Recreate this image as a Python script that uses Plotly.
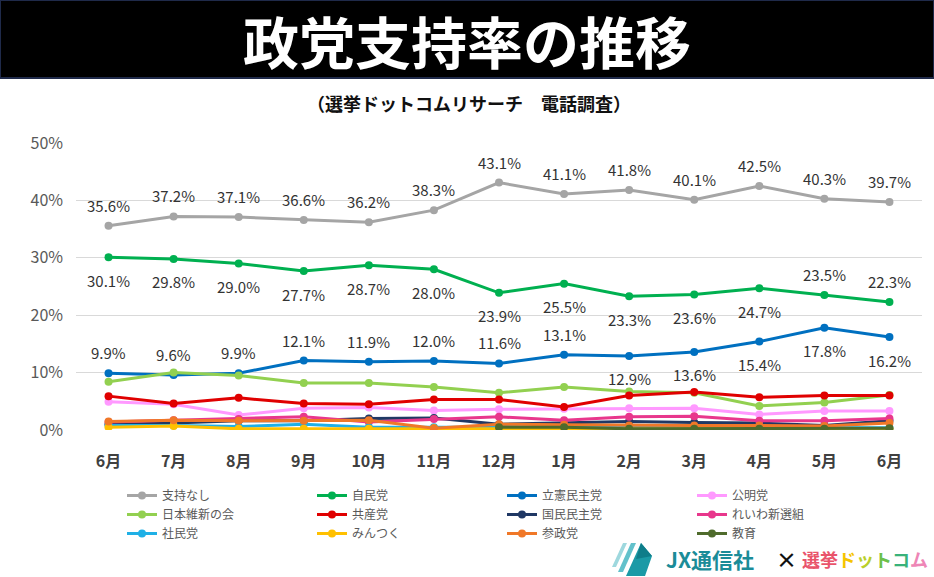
import plotly.graph_objects as go

# ---------------- data ----------------
months = ["6月", "7月", "8月", "9月", "10月", "11月", "12月", "1月", "2月", "3月", "4月", "5月", "6月"]

parties = ["支持なし", "自民党", "立憲民主党", "公明党",
           "日本維新の会", "共産党", "国民民主党", "れいわ新選組",
           "社民党", "みんつく", "参政党", "教育"]

nashi   = [35.6, 37.2, 37.1, 36.6, 36.2, 38.3, 43.1, 41.1, 41.8, 40.1, 42.5, 40.3, 39.7]
jimin   = [30.1, 29.8, 29.0, 27.7, 28.7, 28.0, 23.9, 25.5, 23.3, 23.6, 24.7, 23.5, 22.3]
rikken  = [9.9, 9.6, 9.9, 12.1, 11.9, 12.0, 11.6, 13.1, 12.9, 13.6, 15.4, 17.8, 16.2]
komei   = [4.9, 4.5, 2.6, 3.8, 3.9, 3.4, 3.6, 3.7, 3.8, 3.8, 2.7, 3.3, 3.3]
ishin   = [8.4, 10.0, 9.5, 8.2, 8.2, 7.5, 6.5, 7.5, 6.7, 6.5, 4.2, 4.8, 6.1]
kyosan  = [5.9, 4.6, 5.6, 4.6, 4.5, 5.3, 5.3, 4.0, 6.0, 6.6, 5.7, 6.0, 6.0]
kokumin = [1.0, 1.2, 1.6, 1.6, 2.0, 2.1, 1.0, 1.2, 1.5, 1.3, 1.2, 0.8, 1.6]
reiwa   = [1.4, 1.7, 1.9, 2.3, 1.4, 1.9, 2.3, 1.7, 2.3, 2.4, 1.6, 1.6, 2.0]
shamin  = [0.8, 0.8, 0.6, 1.0, 0.5, 0.5, 0.4, 0.4, 0.4, 0.4, 0.4, 0.4, 0.4]
mintsuku = [0.5, 0.7, 0.2, 0.2, 0.2, 0.3, 0.3, 0.2, 0.2, 0.2, 0.2, 0.2, 0.2]
sansei  = [1.5, 1.7, 1.6, 1.6, 1.7, 0.3, 1.0, 0.9, 0.8, 0.8, 0.8, 0.7, 1.2]
kyoiku  = [None, None, None, None, None, None, 0.5, 0.5, 0.2, 0.2, 0.2, 0.2, 0.3]

series = [nashi, jimin, rikken, komei, ishin, kyosan, kokumin, reiwa,
          shamin, mintsuku, sansei, kyoiku]

y_ticks = [0, 10, 20, 30, 40, 50]

# ---------------- style ----------------
colors = ["#A5A5A5", "#00B050", "#0070C0", "#FF99FF",
          "#92D050", "#E00000", "#203864", "#E8378C",
          "#1FB0E6", "#FFC000", "#F07828", "#4F6B2C"]

# label placement for the three labelled series (1 = above, -1 = below)
label_side = {
    0: [1] * 13,
    1: [-1] * 11 + [1, 1],
    2: [1] * 8 + [-1] * 5,
}

W, H = 934, 577
L, R, T, B = 76, 12, 143, 147
PW, PH = W - L - R, H - T - B


def px(xp):
    return (xp - L) / PW


def py(yp):
    return (H - B - yp) / PH


FONT = "Noto Sans CJK JP"
x_idx = list(range(len(months)))

fig = go.Figure()
for i, (name, vals) in enumerate(zip(parties, series)):
    fig.add_trace(go.Scatter(
        x=x_idx, y=vals, name=name, mode="lines+markers",
        line=dict(color=colors[i], width=3),
        marker=dict(color=colors[i], size=8),
        hoverinfo="skip",
    ))

annotations = []
for si, sides in label_side.items():
    for xi, (v, s) in enumerate(zip(series[si], sides)):
        annotations.append(dict(
            x=xi, y=v, xref="x", yref="y", text=f"{v:.1f}%",
            showarrow=False, yshift=20.5 if s > 0 else -23,
            font=dict(family=FONT, size=15, color="#333333"),
        ))

# title bar
shapes = [dict(type="rect", xref="paper", yref="paper",
               x0=px(0), x1=px(W), y0=py(0), y1=py(78),
               fillcolor="#000000", line=dict(color="#1F2A4A", width=2), layer="below")]
annotations.append(dict(
    xref="paper", yref="paper", x=px(467), y=py(39), text="<b>政党支持率の推移</b>",
    showarrow=False, font=dict(family=FONT, size=56, color="#FFFFFF"),
    xanchor="center", yanchor="middle"))
annotations.append(dict(
    xref="paper", yref="paper", x=px(469), y=py(103), text="<b>（選挙ドットコムリサーチ　電話調査）</b>",
    showarrow=False, font=dict(family=FONT, size=18, color="#111111"),
    xanchor="center", yanchor="middle"))

# logo icon
def poly(pts, color):
    path = "M " + " L ".join(f"{px(a)},{py(b)}" for a, b in pts) + " Z"
    return dict(type="path", xref="paper", yref="paper", path=path,
                fillcolor=color, line=dict(width=0))

shapes += [
    poly([(612, 567), (616, 567), (627, 543), (623, 543)], "#9ED8DE"),
    poly([(618, 572), (623, 572), (636, 543), (631, 543)], "#62C1CB"),
    poly([(626, 576), (641, 543), (652, 556), (645, 576)], "#1A9AA6"),
    poly([(641, 543), (652, 556), (636, 559)], "#0E7D8A"),
]
annotations.append(dict(
    xref="paper", yref="paper", x=px(664), y=py(559), text="<b>JX通信社</b>",
    showarrow=False, font=dict(family=FONT, size=21, color="#1B8C98"),
    xanchor="left", yanchor="middle"))
annotations.append(dict(
    xref="paper", yref="paper", x=px(786), y=py(559), text="<b>×</b>",
    showarrow=False, font=dict(family=FONT, size=21, color="#111111"),
    xanchor="center", yanchor="middle"))
annotations.append(dict(
    xref="paper", yref="paper", x=px(800), y=py(559),
    text=("<b><span style='color:#E9546B'>選挙</span>"
          "<span style='color:#F5C400'>ド</span>"
          "<span style='color:#B9CF2A'>ッ</span>"
          "<span style='color:#6CC04A'>ト</span>"
          "<span style='color:#39B27A'>コ</span>"
          "<span style='color:#EE86B6'>ム</span></b>"),
    showarrow=False, font=dict(family=FONT, size=18),
    xanchor="left", yanchor="middle"))

fig.update_layout(
    width=W, height=H,
    margin=dict(l=L, r=R, t=T, b=B, autoexpand=False),
    paper_bgcolor="white", plot_bgcolor="white",
    font=dict(family=FONT, color="#404040"),
    showlegend=True,
    legend=dict(
        orientation="h", x=px(122), y=py(481), xanchor="left", yanchor="top",
        entrywidth=145, entrywidthmode="pixels", itemwidth=30,
        font=dict(family=FONT, size=12, color="#595959"),
        bgcolor="rgba(0,0,0,0)", tracegroupgap=0,
    ),
    xaxis=dict(
        range=[-0.5, len(months) - 0.5],
        tickmode="array", tickvals=x_idx, ticktext=[f"<b>{m}</b>" for m in months],
        showgrid=False, zeroline=False, showline=False, ticks="",
        tickfont=dict(family=FONT, size=16, color="#404040"),
        ticklabelstandoff=20, fixedrange=True,
    ),
    yaxis=dict(
        range=[0, 50], tickmode="array", tickvals=y_ticks,
        ticktext=[f"{t}%" for t in y_ticks],
        showgrid=True, gridcolor="#D9D9D9", gridwidth=1,
        zeroline=False, showline=False, ticks="",
        tickfont=dict(family=FONT, size=16, color="#595959"),
        ticklabelstandoff=12, fixedrange=True,
    ),
    shapes=shapes,
    annotations=annotations,
)

fig.write_html("out.html", config={"displayModeBar": False},
               post_script="document.body.style.margin='0';document.body.style.overflow='hidden';")
